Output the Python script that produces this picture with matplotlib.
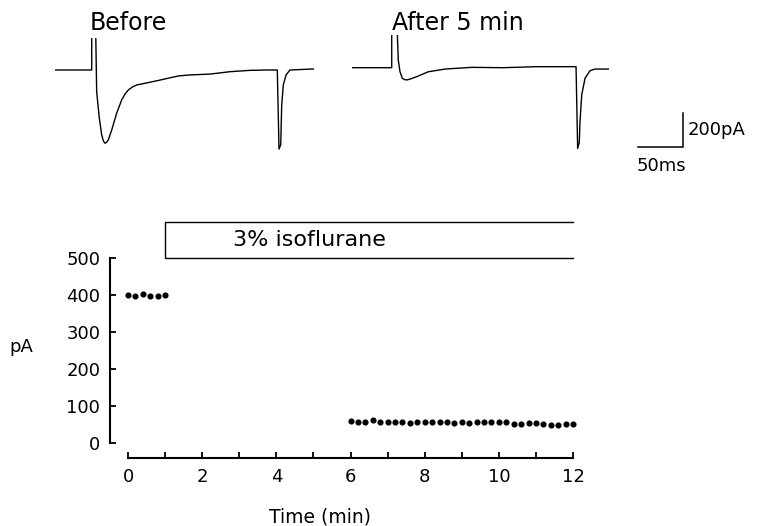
import numpy as np
import matplotlib
matplotlib.use("Agg")
import matplotlib.pyplot as plt

plt.rcParams['font.family'] = ['DejaVu Sans']

# Current traces (time in ms, current in pA)
before_t = [0, 40.8, 40.8, 45, 46.3, 49.2, 51.9, 53.8, 55.6, 57.4, 59.2, 63, 68.6, 74.1,
            78, 81.4, 86, 90.8, 105.6, 120.3, 137, 150, 172.2, 194.4, 216.7, 235.2,
            247, 248.9, 250.8, 251.9, 253.7, 256.7, 261.1, 287]
before_i = [0, 0, 300, 300, -128, -282, -382, -418, -431, -425, -412, -353, -253, -176,
            -140, -118, -100, -88, -72, -55, -35, -29, -24, -10, -2, 0,
            0, -465, -440, -206, -88, -29, 0, 6]

after_t = [0, 43.8, 43.8, 49.3, 51.1, 53, 55.6, 58, 60.8, 66, 73.3, 84.4, 103, 132.7,
           167.8, 204.9, 248.6, 250.4, 252.2, 253, 254.9, 258.6, 264.1, 269.7, 284.4]
after_i = [0, 0, 300, 300, 45, -24, -62, -70, -72, -64, -49, -24, -8, 2,
           0, 6, 6, -475, -440, -318, -161, -62, -18, -8, -8]

# Peak current vs time
t_before = [0.0, 0.2, 0.4, 0.6, 0.8, 1.0]
pa_before = [400, 398, 402, 398, 396, 399]
t_iso = [6.0 + 0.2 * k for k in range(31)]
pa_iso = [59, 57, 57, 61, 57, 56, 56, 58, 53, 56, 56, 56, 57, 57, 55, 57,
          55, 58, 57, 56, 58, 57, 52, 51, 53, 54, 51, 49, 50, 51, 52]

iso_start, iso_end = 1, 12
scale_ms, scale_pa = 50, 200

W, H = 761, 526
fig = plt.figure(figsize=(W / 100, H / 100), dpi=100)


def box(left, top, right, bottom):
    return [left / W, 1 - bottom / H, (right - left) / W, (bottom - top) / H]


def fx(x):
    return x / W


def fy(y):
    return 1 - y / H


# Traces
ax_b = fig.add_axes(box(55, 37.7, 316, 155))
ax_b.plot(before_t, before_i, color="black", lw=1.0)
ax_a = fig.add_axes(box(352.3, 35.4, 613.3, 152.7))
ax_a.plot(after_t, after_i, color="black", lw=1.0)
for a in (ax_b, ax_a):
    a.set_xlim(0, 290)
    a.set_ylim(-500, 190)
    a.axis("off")

fig.text(fx(90), fy(23.5), "Before", fontsize=17, va="center", ha="left")
fig.text(fx(392), fy(23.5), "After 5 min", fontsize=17, va="center", ha="left")

# Scale bar
ax_s = fig.add_axes(box(638, 113, 683, 147))
ax_s.plot([0, scale_ms, scale_ms], [0, 0, scale_pa], color="black", lw=1.1,
          solid_joinstyle="miter", clip_on=False)
ax_s.set_xlim(0, scale_ms)
ax_s.set_ylim(0, scale_pa)
ax_s.axis("off")
fig.text(fx(688), fy(130), "%dpA" % scale_pa, fontsize=13, va="center", ha="left")
fig.text(fx(637), fy(166), "%dms" % scale_ms, fontsize=13, va="center", ha="left")

# Time course
ax = fig.add_axes(box(128, 258, 573, 443))
ax.plot(t_before, pa_before, "o", color="black", ms=3.4, clip_on=False)
ax.plot(t_iso, pa_iso, "o", color="black", ms=3.4, clip_on=False)
ax.set_xlim(0, 12)
ax.set_ylim(0, 500)

for s in ["top", "right"]:
    ax.spines[s].set_visible(False)
ax.spines["left"].set_position(("outward", 13))
ax.spines["bottom"].set_position(("outward", 11))
ax.spines["left"].set_linewidth(1.5)
ax.spines["bottom"].set_linewidth(1.5)

ax.set_yticks([0, 100, 200, 300, 400, 500])
ax.set_xticks(range(0, 13))
ax.set_xticklabels([str(v) if v % 2 == 0 else "" for v in range(0, 13)])
ax.tick_params(axis="both", direction="in", length=4.5, width=1.3, labelsize=13)
ax.tick_params(axis="y", pad=7)
ax.tick_params(axis="x", pad=7)

# isoflurane bar
ax.plot([iso_end, iso_start, iso_start, iso_end], [597, 597, 500, 500],
        color="black", lw=1.0, clip_on=False)
ax.text(4.9, 548, "3% isoflurane", fontsize=16, ha="center", va="center")

fig.text(fx(21), fy(347), "pA", fontsize=13, ha="center", va="center")
fig.text(fx(320), fy(517), "Time (min)", fontsize=13.5, ha="center", va="center")

plt.savefig("out.png", dpi=100)
